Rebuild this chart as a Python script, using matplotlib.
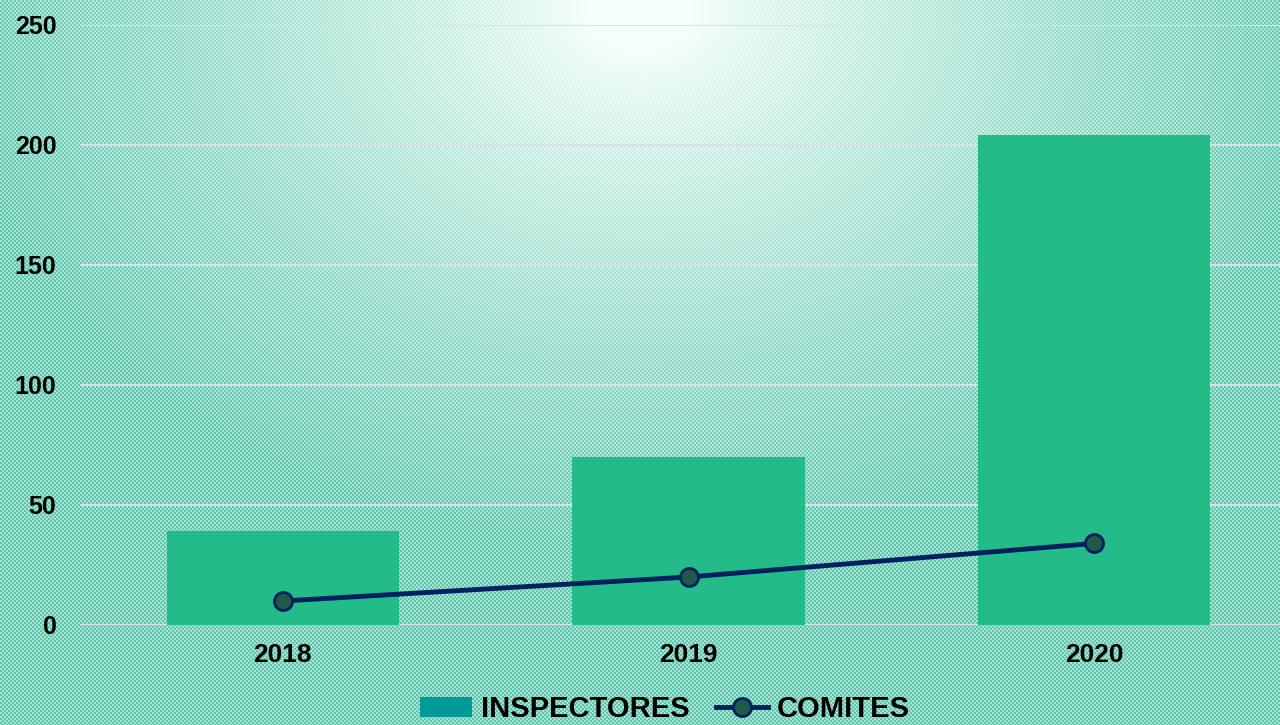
import numpy as np
import matplotlib
matplotlib.use('Agg')
import matplotlib.pyplot as plt
from matplotlib.patches import Patch
from matplotlib.lines import Line2D

# Datos
years = ['2018', '2019', '2020']
inspectores = [39, 70, 204]
comites = [10, 20, 34]
y_ticks = [0, 50, 100, 150, 200, 250]

plt.rcParams['font.family'] = ['Liberation Sans', 'DejaVu Sans']
plt.rcParams['font.weight'] = 'bold'

W, H = 1280, 725
fig = plt.figure(figsize=(W / 100, H / 100), dpi=100)

# Fondo: degradado radial con trama de cuadritos
yy, xx = np.mgrid[0:H, 0:W]
checker = ((xx // 2 + yy // 2) % 2).astype(bool)
d = np.sqrt((xx - 640.0) ** 2 + ((yy - 10.0) * 1.3) ** 2)
t = np.clip((d - 50) / 640, 0, 1) ** 0.8
white = np.array([0.97, 1.0, 0.99])
teal_dark = np.array([0.37, 0.78, 0.68])
teal_light = np.array([0.66, 0.89, 0.83])
dark = white + (teal_dark - white) * t[..., None]
light = white + (teal_light - white) * t[..., None]
bg = np.where(checker[..., None], dark, light)

ax_bg = fig.add_axes([0, 0, 1, 1], zorder=0)
ax_bg.imshow(bg, aspect='auto', interpolation='nearest')
ax_bg.axis('off')

# Gráfico principal
ax = fig.add_axes([80 / W, 1 - 625 / H, 1217 / W, 600 / H], zorder=1)
ax.patch.set_alpha(0)

x = np.arange(len(years))
ax.bar(x, inspectores, width=0.572, color='#23BC88', zorder=2)
ax.plot(x, comites, color='#002060', lw=3.5, marker='o', markersize=13,
        markerfacecolor='#1E5A47', markeredgecolor='#002060',
        markeredgewidth=2, zorder=3)

ax.set_xlim(-0.5, len(years) - 0.5)
ax.set_ylim(0, 250)
ax.set_yticks(y_ticks)
ax.set_xticks(x)
ax.set_xticklabels(years)
ax.yaxis.grid(True, color='#D9DFF0', lw=1.5, zorder=1)
ax.set_axisbelow(True)
for s in ax.spines.values():
    s.set_visible(False)
ax.tick_params(length=0, colors='black')
ax.tick_params(axis='y', pad=17, labelsize=18)
ax.tick_params(axis='x', pad=13, labelsize=19)

handles = [Patch(facecolor='#009999', edgecolor='none', label='INSPECTORES'),
           Line2D([], [], color='#002060', lw=3.5, marker='o', markersize=13,
                  markerfacecolor='#1E5A47', markeredgecolor='#002060',
                  markeredgewidth=2, label='COMITES')]
fig.legend(handles=handles, loc='center', bbox_to_anchor=(665 / W, 1 - 709 / H),
           ncol=2, frameon=False, handlelength=1.8,
           handletextpad=0.3, columnspacing=0.9, borderpad=0,
           prop={'weight': 'bold', 'size': 21})

fig.savefig('out.png', dpi=100)
